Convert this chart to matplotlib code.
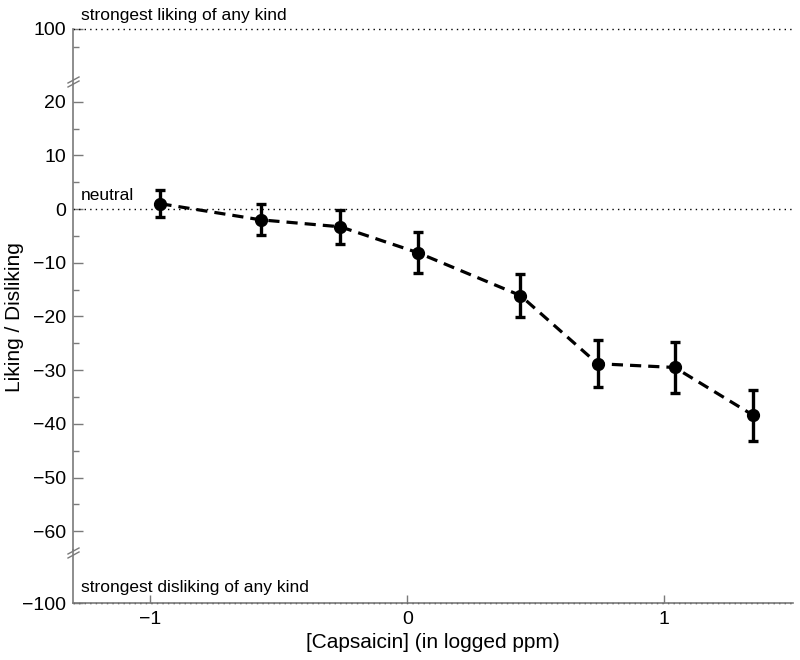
import matplotlib.pyplot as plt
import numpy as np
from matplotlib.lines import Line2D
from matplotlib.ticker import MultipleLocator, FixedLocator

plt.rcParams['font.family'] = ['Liberation Sans', 'DejaVu Sans']

log_ppm = [-0.96, -0.57, -0.26, 0.04, 0.44, 0.74, 1.04, 1.345]
liking = [1.0, -2.0, -3.3, -8.1, -16.1, -28.8, -29.5, -38.4]
sem = [2.5, 2.9, 3.2, 3.8, 4.0, 4.4, 4.7, 4.75]

x_ticks = [-1, 0, 1]
mid_ticks = [20, 10, 0, -10, -20, -30, -40, -50, -60]

W, H = 800, 660
spine_col = '#7a7a7a'
xlim = (-1.30, 1.50)

def rect(top_px, bot_px, left_px=73, right_px=793):
    return [left_px / W, 1 - bot_px / H, (right_px - left_px) / W, (bot_px - top_px) / H]

fig = plt.figure(figsize=(8, 6.6), dpi=100)
ax_top = fig.add_axes(rect(29, 84))
ax_mid = fig.add_axes(rect(84, 550))
ax_bot = fig.add_axes(rect(550, 603))

for ax in (ax_top, ax_mid, ax_bot):
    ax.set_xlim(*xlim)
    for s in ('top', 'right', 'bottom'):
        ax.spines[s].set_visible(False)
    ax.spines['left'].set_color(spine_col)
    ax.spines['left'].set_linewidth(1.2)
    ax.tick_params(axis='y', which='major', direction='in', length=7, width=1,
                   color=spine_col, labelsize=14, pad=5)
    ax.tick_params(axis='y', which='minor', direction='in', length=4, width=1,
                   color=spine_col)
    ax.tick_params(axis='x', which='both', bottom=False, labelbottom=False)
    ax.patch.set_alpha(0)

# top segment
ax_top.set_ylim(85, 100)
ax_top.yaxis.set_major_locator(FixedLocator([100]))
ax_top.yaxis.set_minor_locator(FixedLocator([95]))
ax_top.axhline(100, color='black', lw=1, ls=(0, (1, 3)), clip_on=False)
ax_top.text(-1.27, 101.5, 'strongest liking of any kind', fontsize=12.5, va='bottom')

# middle segment with data
ax_mid.set_ylim(-63.5, 23.3)
ax_mid.yaxis.set_major_locator(FixedLocator(mid_ticks))
ax_mid.yaxis.set_minor_locator(MultipleLocator(5))
ax_mid.set_yticklabels(['\u2212' + str(abs(t)) if t < 0 else str(t) for t in mid_ticks])
ax_mid.axhline(0, color='black', lw=1, ls=(0, (1, 3)))
ax_mid.text(-1.27, 1.2, 'neutral', fontsize=12.5, va='bottom')
ax_mid.errorbar(log_ppm, liking, yerr=sem, fmt='o', color='black', ms=8.5,
                elinewidth=2.4, capsize=3.5, capthick=2.4, zorder=3)
ax_mid.plot(log_ppm, liking, color='black', lw=2.3, ls=(0, (3.5, 2.2)), zorder=2)
ax_mid.set_ylabel('Liking / Disliking', fontsize=15)
ax_mid.yaxis.set_label_coords(-0.068, 0.5)

# bottom segment with x axis
ax_bot.set_ylim(-100, -90)
ax_bot.yaxis.set_major_locator(FixedLocator([-100]))
ax_bot.set_yticklabels(['\u2212100'])
ax_bot.yaxis.set_minor_locator(FixedLocator([]))
ax_bot.spines['bottom'].set_visible(True)
ax_bot.spines['bottom'].set_color(spine_col)
ax_bot.spines['bottom'].set_linewidth(1.2)
ax_bot.axhline(-100, color='black', lw=1, ls=(0, (1, 3)), clip_on=False)
ax_bot.text(-1.27, -98.4, 'strongest disliking of any kind', fontsize=12.5, va='bottom')
ax_bot.set_xticks(x_ticks)
ax_bot.set_xticklabels(['\u22121', '0', '1'])
ax_bot.tick_params(axis='x', which='major', bottom=True, labelbottom=True,
                   direction='in', length=6, width=1, color=spine_col,
                   labelsize=14, pad=6)
ax_bot.set_xlabel('[Capsaicin] (in logged ppm)', fontsize=15, labelpad=3)

# axis break marks on the left spine
for yb in (82, 553):
    for off in (-2, 2):
        fig.add_artist(Line2D([68 / W, 79 / W],
                              [1 - (yb + off + 3) / H, 1 - (yb + off - 3) / H],
                              color=spine_col, lw=1, transform=fig.transFigure))

fig.savefig('out.png', dpi=100)
